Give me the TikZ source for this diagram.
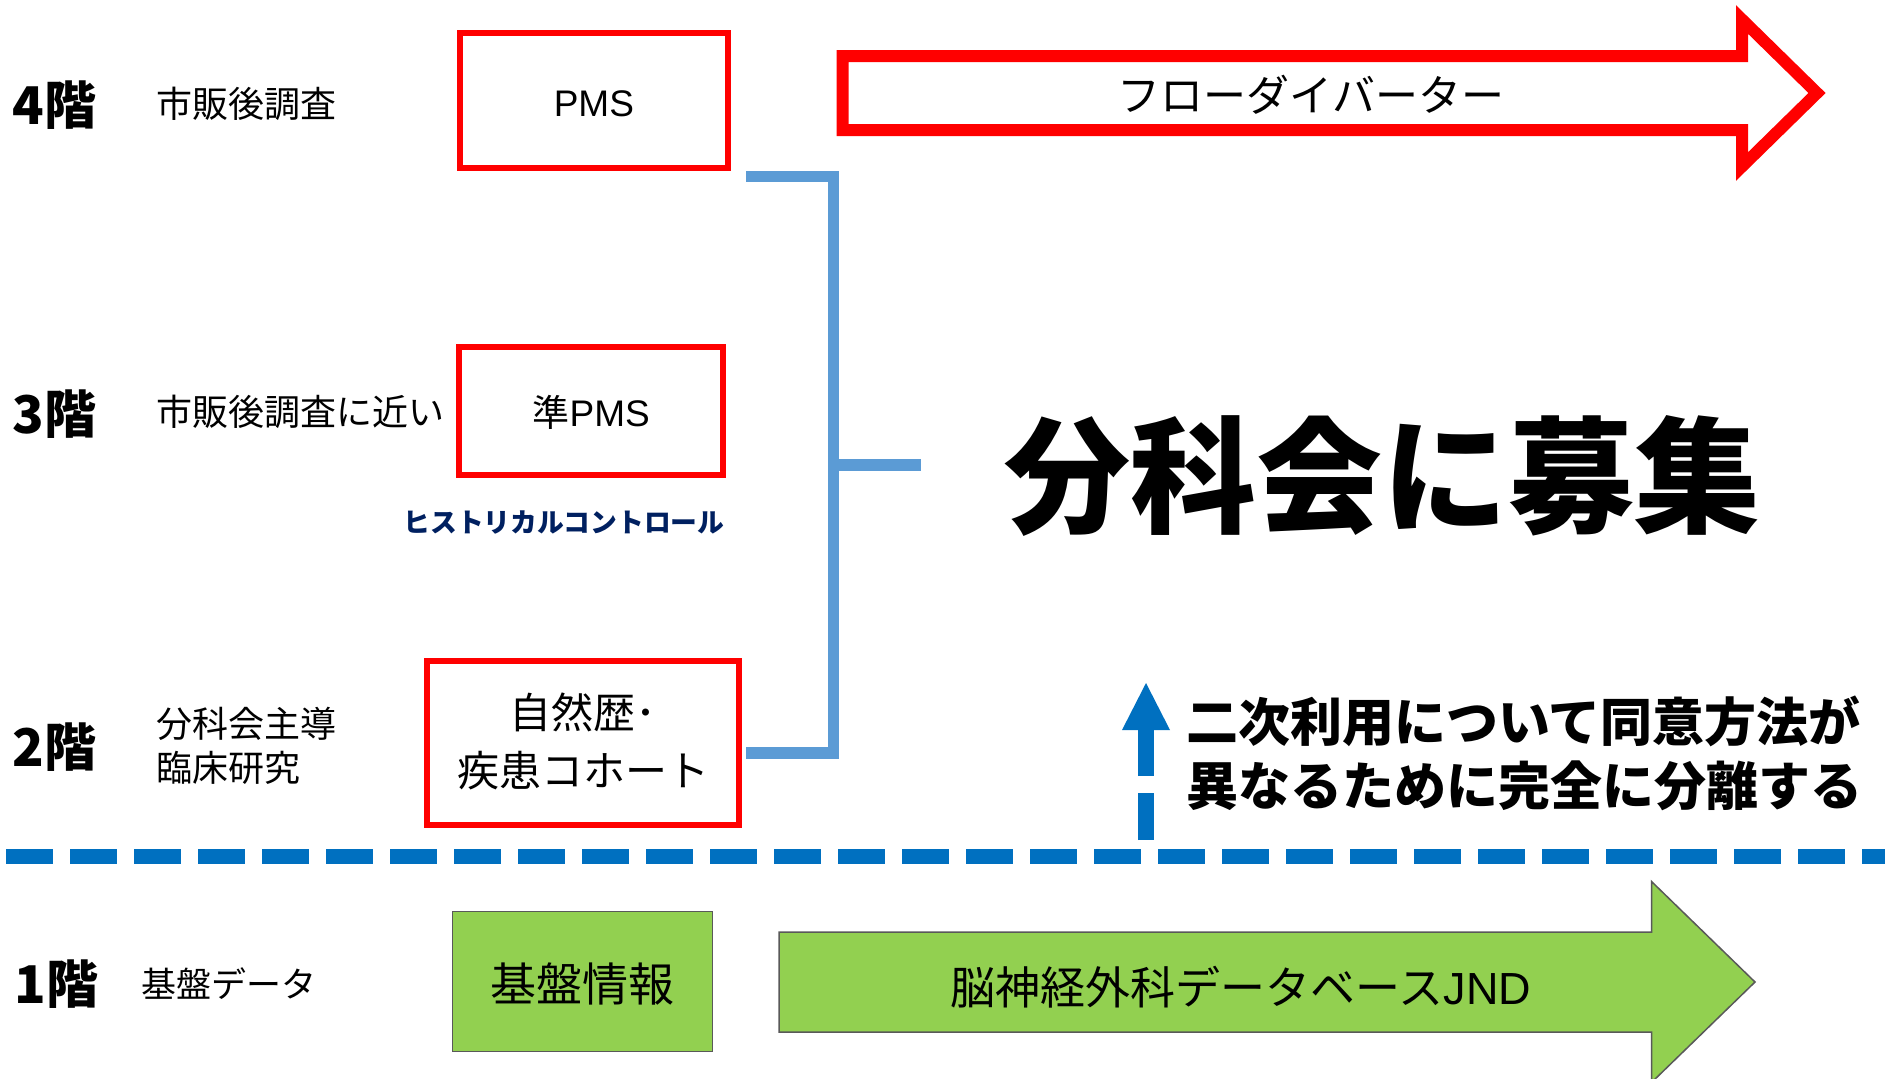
\documentclass[tikz,border=0pt]{standalone}
\usepackage{fontspec}
\setmainfont{Liberation Sans}
\newfontfamily\jp{Noto Sans CJK JP}
\usetikzlibrary{calc}
\definecolor{pptred}{HTML}{FF0000}
\definecolor{brk}{HTML}{5B9BD5}
\definecolor{dashblue}{HTML}{0070C0}
\definecolor{grn}{HTML}{92D050}
\definecolor{navy}{HTML}{002060}
\definecolor{edgegray}{HTML}{595959}
\newcommand\fz[2]{\fontsize{#1}{#2}\selectfont}
\newcommand\lowerby[2]{\raisebox{-#1}[\height][\depth]{#2}}
\begin{document}
\begin{tikzpicture}[x=0.5pt,y=-0.5pt,
  lvl/.style={anchor=west, inner sep=0pt, font=\jp\bfseries\fz{26pt}{30pt}},
  desc/.style={anchor=west, inner sep=0pt, align=left, font=\jp\fz{18pt}{22pt}},
  redbox/.style={draw=pptred, line width=3pt, inner sep=0pt, align=center},
  greenbox/.style={draw=edgegray, fill=grn, line width=0.75pt, inner sep=0pt},
  bracket/.style={draw=brk, line width=5.8pt},
  sepline/.style={draw=dashblue, line width=7.75pt, dash pattern=on 23.5pt off 8.5pt}
]
\useasboundingbox (0,0) rectangle (1885,1078);
\clip (0,0) rectangle (1885,1078);

% floor labels
\node[lvl] (f4) at (12,105) {4階};
\node[lvl] (f3) at (12,414) {3階};
\node[lvl] (f2) at (12,747) {2階};
\node[lvl] (f1) at (14,984) {1階};

% descriptions
\node[desc] (d4) at (156,104) {市販後調査};
\node[desc] (d3) at (156,412) {市販後調査に近い};
\node[desc] (d2) at (156,746) {分科会主導\\臨床研究};
\node[desc, font=\jp\fz{17.5pt}{21pt}] (d1) at (140.6,984) {基盤データ};

% red boxes
\node[redbox, minimum width=133.6pt, minimum height=67.2pt, font=\fz{18.5pt}{22pt}] (pms) at (593.9,100.6) {\lowerby{1.7pt}{PMS}};
\node[redbox, minimum width=132pt, minimum height=63.8pt, font=\fz{18.5pt}{22pt}] (jpms) at (591.3,410.7) {\lowerby{1pt}{{\jp 準}PMS}};
\node[redbox, minimum width=156pt, minimum height=82.25pt, font=\jp\fz{21pt}{28.7pt}] (cohort) at (583.2,743) {\lowerby{1.6pt}{\begin{tabular}{@{}c@{}}自然歴･\\疾患コホート\end{tabular}}};

\node[anchor=west, inner sep=0pt, text=navy, font=\jp\bfseries\fz{13.4pt}{16pt}] (hc) at (403,522) {ヒストリカルコントロール};

% bracket
\coordinate (bt) at (746,176.5);
\coordinate (bb) at (746,753);
\coordinate (bj) at (833.5,465);
\coordinate (bs) at (921,465);
\draw[bracket] (bt) -| (bj) |- (bb);
\draw[bracket] (bj) -- (bs);

% flow diverter arrow
\draw[pptred, line width=6pt] (842.7,56) -- (1742,56) -- (1742,19.5) -- (1817,93) -- (1742,166.5) -- (1742,130) -- (842.7,130) -- cycle;
\node[font=\jp\fz{21.5pt}{24pt}] (fd) at (1311,95) {フローダイバーター};

% big text
\node[font=\jp\bfseries\fz{63pt}{70pt}] (bosyu) at (1382,476) {分科会に募集};

% separator line
\coordinate (dl) at (6,856.5);
\coordinate (dr) at (1885,856.5);
\draw[sepline] (dl) -- (dr);

% up arrow
\coordinate (ua) at (1146,840);
\coordinate (ub) at (1146,730);
\coordinate (utip) at (1146,683);
\draw[draw=dashblue, line width=8pt, dash pattern=on 23.5pt off 8.5pt] (ua) -- (ub);
\fill[dashblue] ($(ub)+(-24,0)$) -- ($(ub)+(24,0)$) -- (utip) -- cycle;

\node[anchor=west, align=left, inner sep=0pt, font=\jp\bfseries\fz{26pt}{32pt}] (note) at (1186,753) {二次利用について同意方法が\\異なるために完全に分離する};

% floor 1
\node[greenbox, minimum width=130pt, minimum height=69.8pt, font=\jp\fz{23pt}{26pt}] (kiban) at (582.3,981.5) {\lowerby{1.5pt}{基盤情報}};
\filldraw[fill=grn, draw=edgegray, line width=0.75pt] (779,932) -- (1651.5,932) -- (1651.5,881.5) -- (1755,982) -- (1651.5,1082.5) -- (1651.5,1032) -- (779,1032) -- cycle;
\node[font=\fz{22.5pt}{26pt}] (jnd) at (1241,987) {{\jp 脳神経外科データベース}JND};
\end{tikzpicture}
\end{document}
